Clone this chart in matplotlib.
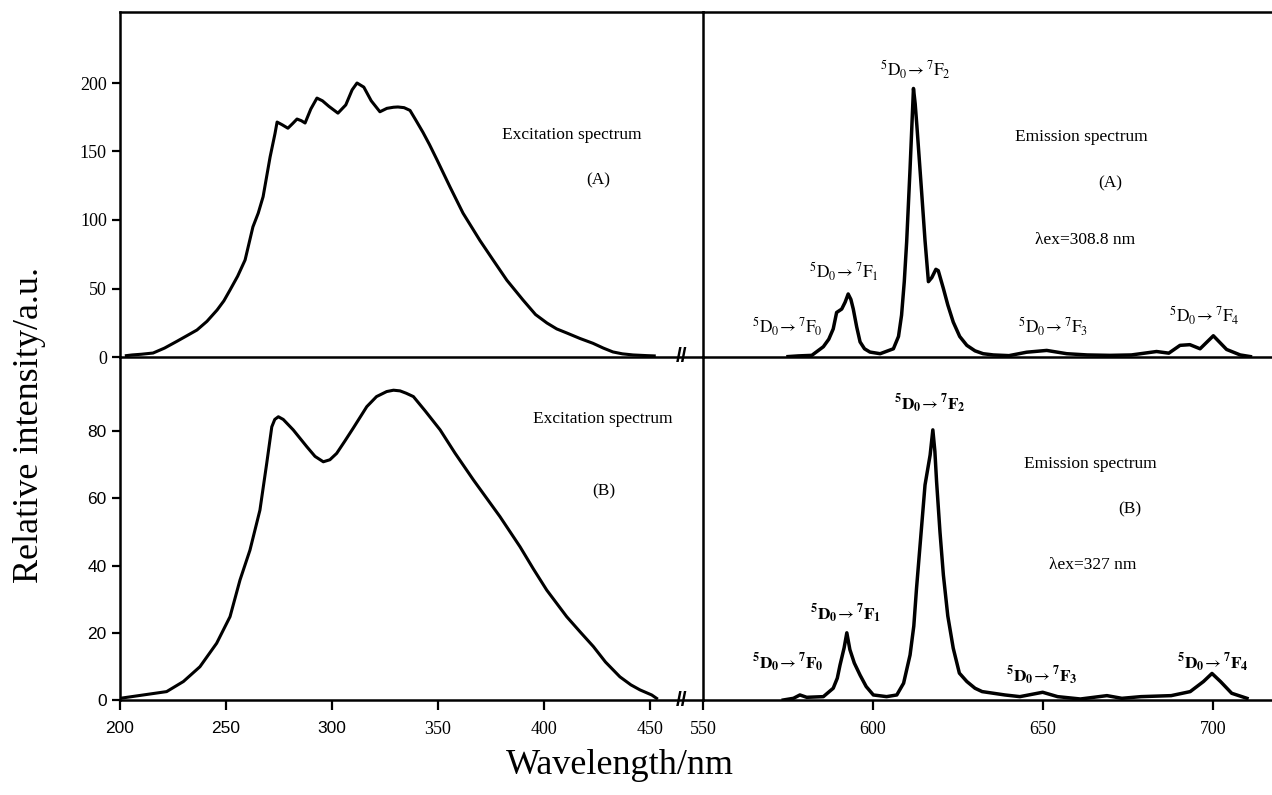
import matplotlib
matplotlib.use("Agg")
import matplotlib.pyplot as plt

# ---------------- data ----------------
# Excitation spectrum (A)
exA_x = [203, 205.7, 210, 215.6, 221, 226.9, 231.5, 236.3, 241, 245.8, 249, 251.9, 255.5, 259, 262.7,
         265.2, 267.5, 270.8, 273.1, 274.1, 276.5, 279.2, 281.5, 283.5, 285.5, 287.3, 290,
         292.9, 295.5, 298.5, 302.8, 306.5, 309.5, 311.8, 315, 318.5, 322.6, 325.9, 329,
         331.1, 334, 336.8, 339.5, 342.9, 346, 349.5, 355.7, 361.8, 369.8, 375.9, 382.5,
         390.1, 396, 401.4, 406, 410.8, 417, 423.1, 428, 432.5, 437, 442, 448.6, 452]
exA_y = [1, 1.5, 2, 2.9, 6.5, 11.5, 15.5, 19.7, 26, 34.3, 41, 48.9, 59, 70.8, 95,
         105, 117, 146, 163, 171.5, 169.5, 167, 170.5, 173.7, 172.5, 170.8, 181,
         189, 187, 183, 178, 184, 195, 200, 197, 187, 179, 181.5, 182.3,
         182.5, 182, 180, 173, 164, 155, 144, 124, 105, 85, 71, 56,
         41.6, 31, 24.8, 20.5, 17.5, 13.5, 10, 6.5, 3.7, 2.3, 1.5, 1, 0.8]

# Excitation spectrum (B)
exB_x = [200, 211, 222, 229.9, 237.7, 245.6, 251.9, 256.6, 261.3, 266, 269.2, 271.6, 273,
         274.7, 277, 281.7, 288.1, 292, 295.9, 299, 302.2, 306, 310, 316.4, 321, 325.8,
         329, 332.1, 335, 338.4, 344, 351, 358, 366.7, 379.2, 388.7, 395, 401.3, 410.7,
         417, 423.3, 429, 435.8, 441, 445.3, 450.8, 453.1]
exB_y = [0.5, 1.5, 2.5, 5.5, 9.9, 16.9, 24.8, 35.7, 44.6, 56.5, 70.4, 81.3, 83.5,
         84.3, 83.5, 80.4, 75.4, 72.5, 70.9, 71.5, 73.4, 77, 80.9, 87.3, 90.3, 91.8,
         92.2, 92, 91.3, 90.3, 86, 80.4, 73.5, 65.5, 54.6, 45.6, 39, 32.7, 24.8,
         20.3, 15.9, 11.3, 6.9, 4.5, 3, 1.5, 0.5]

# Emission spectrum (A), lambda_ex = 308.8 nm
emA_x = [575, 578, 582, 585.4, 587, 588.3, 589.3, 590.8, 591.8, 592.7, 593.5, 594.2, 595.2,
         596.2, 597.5, 599.1, 602.1, 606, 607.5, 608.4, 609.2, 609.9, 610.9, 611.9, 612.4,
         612.9, 614.3, 615.3, 616.3, 617.3, 618.5, 619.2, 620.7, 622, 623.6, 625.5, 627.6,
         630, 632.4, 635.4, 640, 645.2, 651.1, 657, 663, 669.7, 676, 683.4, 687, 690.3,
         693.2, 696.2, 700.1, 704, 708, 711]
emA_y = [0.3, 0.8, 1.2, 7.5, 13, 20.5, 32.5, 35, 40, 46, 42, 35, 22,
         11, 6, 3.6, 2.4, 6, 15, 30.5, 55, 84, 137.5, 196, 185,
         169, 120.5, 85, 55, 58, 64, 63, 50, 38, 25.5, 15, 8.5,
         4.5, 2.4, 1.5, 1, 3.5, 4.8, 2.4, 1.5, 1.2, 1.5, 4, 2.8, 8.5,
         9, 6, 15.5, 5.5, 1.5, 0.3]

# Emission spectrum (B), lambda_ex = 327 nm
emB_x = [573.6, 576.6, 578.5, 580.5, 585.4, 588.3, 589.5, 590.3, 591.5, 592.3, 593.2, 594.5,
         596.2, 598, 600.1, 604, 607, 609, 610.9, 612, 612.8, 614, 615.3, 616.8, 617.6,
         618.2, 618.7, 619.7, 620.7, 622, 623.6, 625.4, 627.6, 630, 632.1, 638.8, 643.2,
         649.9, 654.3, 661, 668.8, 673.2, 678.8, 687.7, 693.3, 697.2, 699.7, 702.2, 705.5, 710]
emB_y = [0, 0.5, 1.5, 0.8, 1, 3.5, 6.5, 10.4, 15.5, 20, 15, 11,
         7.4, 4, 1.5, 1, 1.5, 5, 13.4, 22, 33.2, 48, 64, 72.9, 80.4,
         74, 65, 50, 37.2, 25, 15.4, 8, 5.5, 3.5, 2.5, 1.5, 1,
         2.3, 1, 0.3, 1.3, 0.5, 1, 1.3, 2.5, 5.5, 7.9, 5.5, 2, 0.5]

yticks_top = [0, 50, 100, 150, 200]
yticks_bot = [0, 20, 40, 60, 80]
xticks_left = [200, 250, 300, 350, 400, 450]
xticks_right = [550, 600, 650, 700]

# ---------------- style ----------------
SERIF = ["Liberation Serif", "DejaVu Serif"]
SANS = ["Liberation Sans", "DejaVu Sans"]
plt.rcParams["font.family"] = SERIF
plt.rcParams["mathtext.fontset"] = "stix"
LW = 2.2
SPW = 1.8

W, H = 1272, 795
fig = plt.figure(figsize=(W / 100, H / 100), dpi=100)

L = 120 / W
M = 703 / W
T = 1 - 12 / H
C = 1 - 357 / H
B = 1 - 700 / H

ax_tl = fig.add_axes([L, C, M - L, T - C])
ax_tr = fig.add_axes([M, C, 1 - M, T - C])
ax_bl = fig.add_axes([L, B, M - L, C - B])
ax_br = fig.add_axes([M, B, 1 - M, C - B])

left_xlim = (200, 200 + (703 - 120) / 2.12)
right_xlim = (550, 550 + (1272 - 703) / 3.4)

for ax in (ax_tl, ax_tr, ax_bl, ax_br):
    ax.patch.set_visible(False)
    for s in ax.spines.values():
        s.set_linewidth(SPW)
    ax.spines["right"].set_visible(False)
    ax.tick_params(direction="out", length=6, width=1.6, colors="black")

ax_tl.plot(exA_x, exA_y, color="black", lw=LW, solid_joinstyle="round")
ax_bl.plot(exB_x, exB_y, color="black", lw=LW, solid_joinstyle="round")
ax_tr.plot(emA_x, emA_y, color="black", lw=LW + 0.3, solid_joinstyle="round")
ax_br.plot(emB_x, emB_y, color="black", lw=LW + 0.3, solid_joinstyle="round")

ax_tl.set_xlim(*left_xlim)
ax_bl.set_xlim(*left_xlim)
ax_tr.set_xlim(*right_xlim)
ax_br.set_xlim(*right_xlim)
ax_tl.set_ylim(0, (357 - 12) / 1.37)
ax_tr.set_ylim(0, (357 - 12) / 1.37)
ax_bl.set_ylim(0, (700 - 357) / 3.36)
ax_br.set_ylim(0, (700 - 357) / 3.36)

# top-left
ax_tl.set_yticks(yticks_top)
ax_tl.set_yticklabels([str(v) for v in yticks_top], fontsize=13, family=SERIF)
ax_tl.tick_params(axis="x", bottom=False, labelbottom=False)
# top-right
ax_tr.tick_params(left=False, labelleft=False, bottom=False, labelbottom=False)
# bottom-left
ax_bl.spines["top"].set_visible(False)
ax_bl.set_yticks(yticks_bot)
ax_bl.set_yticklabels([str(v) for v in yticks_bot], fontsize=12.5, family=SANS)
ax_bl.set_xticks(xticks_left)
ax_bl.set_xticklabels([str(v) for v in xticks_left], fontsize=13)
for lab, v in zip(ax_bl.get_xticklabels(), xticks_left):
    lab.set_family(SANS if v <= 300 else SERIF)
    if v <= 300:
        lab.set_fontsize(12.5)
ax_bl.tick_params(axis="x", pad=8, length=7)
# bottom-right
ax_br.spines["top"].set_visible(False)
ax_br.tick_params(axis="y", left=False, labelleft=False)
ax_br.set_xticks(xticks_right)
ax_br.set_xticklabels([str(v) for v in xticks_right], fontsize=13, family=SERIF)
ax_br.tick_params(axis="x", pad=8, length=7)

# axis break marks
for ax in (ax_tl, ax_bl):
    ax.text(465, 0, "//", transform=ax.get_xaxis_transform(), ha="center", va="center",
            fontsize=15, fontweight="bold", family=SANS, clip_on=False)


def fx(px):
    return px / W


def fy(py):
    return 1 - py / H


def trans(n, bold=False):
    if bold:
        return r"$^{\mathbf{5}}\mathbf{D}_{\mathbf{0}}\!\rightarrow{}^{\mathbf{7}}\mathbf{F}_{\mathbf{%d}}$" % n
    return r"$^{5}\mathrm{D}_{0}\!\rightarrow{}^{7}\mathrm{F}_{%d}$" % n


TS = 12.5
# top-left annotations
fig.text(fx(572), fy(135), "Excitation spectrum", ha="center", va="center", fontsize=TS)
fig.text(fx(598), fy(180), "(A)", ha="center", va="center", fontsize=TS)
# bottom-left
fig.text(fx(603), fy(419), "Excitation spectrum", ha="center", va="center", fontsize=TS)
fig.text(fx(604), fy(491), "(B)", ha="center", va="center", fontsize=TS)
# top-right
fig.text(fx(1081), fy(137), "Emission spectrum", ha="center", va="center", fontsize=TS)
fig.text(fx(1110), fy(183), "(A)", ha="center", va="center", fontsize=TS)
fig.text(fx(1085), fy(240), "λex=308.8 nm", ha="center", va="center", fontsize=TS)
fig.text(fx(915), fy(70), trans(2), ha="center", va="center", fontsize=TS)
fig.text(fx(844), fy(272), trans(1), ha="center", va="center", fontsize=TS)
fig.text(fx(787), fy(327), trans(0), ha="center", va="center", fontsize=TS)
fig.text(fx(1053), fy(327), trans(3), ha="center", va="center", fontsize=TS)
fig.text(fx(1204), fy(316), trans(4), ha="center", va="center", fontsize=TS)
# bottom-right
fig.text(fx(930), fy(404), trans(2, True), ha="center", va="center", fontsize=TS)
fig.text(fx(1090), fy(464), "Emission spectrum", ha="center", va="center", fontsize=TS)
fig.text(fx(1130), fy(509), "(B)", ha="center", va="center", fontsize=TS)
fig.text(fx(1093), fy(565), "λex=327 nm", ha="center", va="center", fontsize=TS)
fig.text(fx(846), fy(614), trans(1, True), ha="center", va="center", fontsize=TS)
fig.text(fx(788), fy(663), trans(0, True), ha="center", va="center", fontsize=TS)
fig.text(fx(1042), fy(676), trans(3, True), ha="center", va="center", fontsize=TS)
fig.text(fx(1213), fy(663), trans(4, True), ha="center", va="center", fontsize=TS)

# axis titles
fig.text(fx(30), fy(425), "Relative intensity/a.u.", rotation=90, ha="center", va="center",
         fontsize=26)
fig.text(fx(620), fy(765), "Wavelength/nm", ha="center", va="center", fontsize=26)

fig.savefig("out.png", dpi=100, facecolor="white")
